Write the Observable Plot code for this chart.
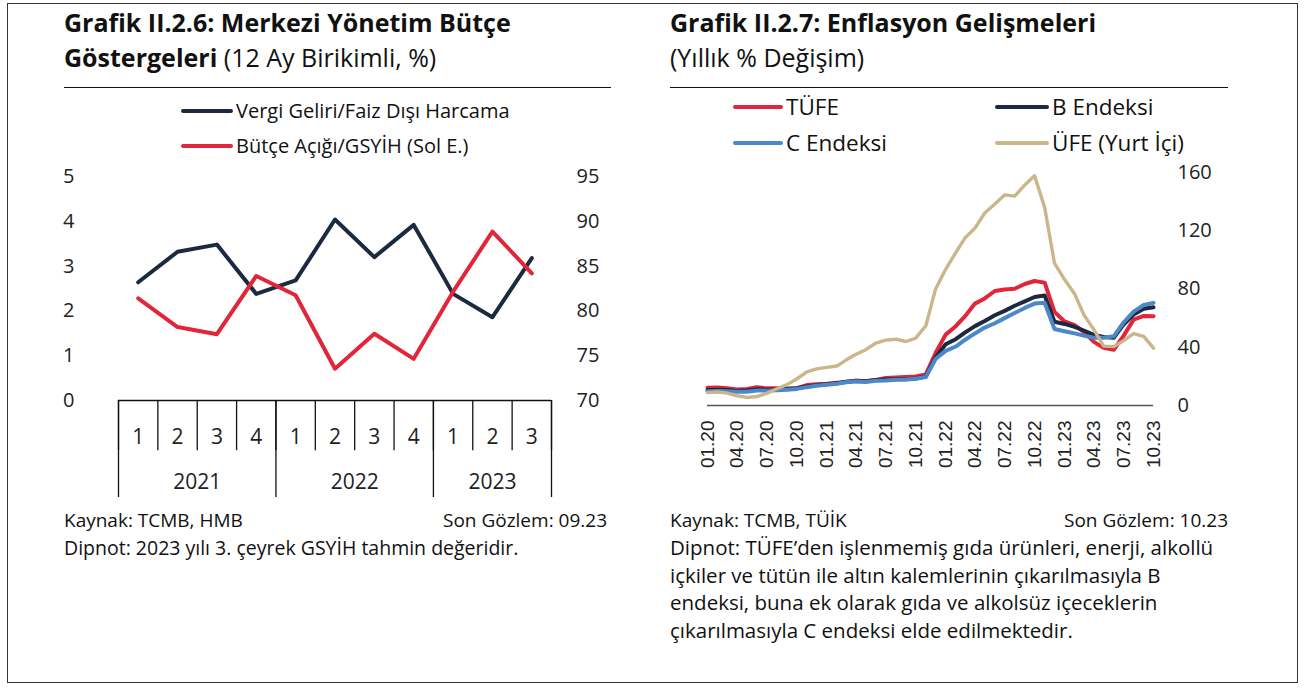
<!DOCTYPE html>
<html><head><meta charset="utf-8">
<script src="https://cdn.jsdelivr.net/npm/d3@7"></script>
<script src="https://cdn.jsdelivr.net/npm/@observablehq/plot@0.6"></script>
<style>
body{margin:0;background:#fff;font-family:"Open Sans",sans-serif;color:#1a1a1a}
#page{position:relative;width:1306px;height:688px;overflow:hidden;background:#fff}
#frame{position:absolute;left:7px;top:3px;width:1291px;height:680px;border:1.5px solid #333;box-sizing:border-box}
.title{position:absolute;font-size:25px;line-height:35px;white-space:nowrap;color:#111}
.title b{font-weight:700}
.rule{position:absolute;height:0;border-top:1.6px solid #111}
.leg{position:absolute;white-space:nowrap;display:flex;align-items:center;color:#111;line-height:30px}
.sw{display:inline-block;height:4px;border-radius:2px;margin-right:3px}
.foot{position:absolute;font-size:19.5px;line-height:27.5px;white-space:nowrap;color:#111}
.chart{position:absolute}
</style></head>
<body>
<div id="page">
  <div id="frame"></div>
  <div class="title" style="left:64px;top:5px"><b>Grafik II.2.6: Merkezi Yönetim Bütçe</b><br><b>Göstergeleri</b> (12 Ay Birikimli, %)</div>
  <div class="rule" style="left:64px;top:87px;width:547px"></div>
  <div class="title" style="left:670px;top:5px"><b>Grafik II.2.7: Enflasyon Gelişmeleri</b><br>(Yıllık % Değişim)</div>
  <div class="rule" style="left:670px;top:87px;width:558px"></div>
  <div class="chart" id="chartL" style="left:60px;top:150px"></div>
  <div class="chart" id="chartR" style="left:660px;top:150px"></div>
  <div class="foot" style="left:64px;top:507px;font-size:19px">Kaynak: TCMB, HMB</div>
  <div class="foot" style="right:699px;top:507px;font-size:19px">Son Gözlem: 09.23</div>
  <div class="foot" style="left:64px;top:534px">Dipnot: 2023 yılı 3. çeyrek GSYİH tahmin değeridir.</div>
  <div class="foot" style="left:670px;top:507px;font-size:19px">Kaynak: TCMB, TÜİK</div>
  <div class="foot" style="right:78px;top:507px;font-size:19px">Son Gözlem: 10.23</div>
  <div class="foot" style="left:670px;top:534px;font-size:20.5px">Dipnot: TÜFE’den işlenmemiş gıda ürünleri, enerji, alkollü<br>içkiler ve tütün ile altın kalemlerinin çıkarılmasıyla B<br>endeksi, buna ek olarak gıda ve alkolsüz içeceklerin<br>çıkarılmasıyla C endeksi elde edilmektedir.</div>
</div>
<script>
// ---------- Left chart data (Grafik II.2.6) ----------
const quarters = ["1","2","3","4","1","2","3","4","1","2","3"];
const years = ["2021","2022","2023"];
const quartersPerYear = [4,4,3];
const vergiGeliriFaizDisi = [83.2,86.6,87.4,81.9,83.4,90.2,86.0,89.6,81.9,79.3,85.9]; // right axis
const butceAcigiGSYIH = [2.28,1.64,1.48,2.78,2.35,0.71,1.49,0.93,2.43,3.77,2.84];      // left axis
const leftTicks = [0,1,2,3,4,5];
const rightTicksL = [70,75,80,85,90,95];
const leftSeriesNames = ["Vergi Geliri/Faiz Dışı Harcama","Bütçe Açığı/GSYİH (Sol E.)"];

// ---------- Right chart data (Grafik II.2.7) ----------
const startMonth = "2020-01";
const tufe = [12.15,12.37,11.86,10.94,11.39,12.62,11.76,11.77,11.75,11.89,14.03,14.60,
  14.97,15.61,16.19,17.14,16.59,17.53,18.95,19.25,19.58,19.89,21.31,36.08,
  48.69,54.44,61.14,69.97,73.50,78.62,79.60,80.21,83.45,85.51,84.39,64.27,
  57.68,55.18,50.51,43.68,39.59,38.21,47.83,58.94,61.53,61.36];
const bEndeksi = [10.6,10.9,10.6,10.0,10.3,11.2,10.8,11.0,11.3,11.9,13.0,14.0,
  14.6,15.2,16.3,16.9,16.6,17.5,17.8,18.0,18.1,18.6,19.9,33.0,
  42.0,45.5,50.0,54.5,58.0,62.0,65.0,68.5,71.5,74.5,75.5,57.5,
  56.0,54.0,51.5,48.5,47.0,46.5,55.5,62.5,66.5,67.5];
const cEndeksi = [9.8,10.0,9.8,9.4,9.5,10.3,10.2,10.4,10.8,11.4,12.6,13.6,
  14.3,15.0,16.0,16.6,16.2,17.0,17.2,17.6,17.8,18.4,19.6,31.9,
  37.5,40.5,45.0,49.5,53.5,56.5,60.0,63.5,67.0,70.0,70.5,52.5,
  51.0,49.5,48.0,46.5,46.5,47.5,57.0,64.5,69.0,70.5];
const ufe = [8.84,9.26,8.50,6.71,5.53,6.17,8.33,11.53,14.33,18.20,23.11,25.15,
  26.16,27.09,31.20,35.17,38.33,42.89,44.92,45.52,43.96,46.31,54.62,79.89,
  93.53,105.01,114.97,121.82,132.16,138.31,144.61,143.75,151.50,157.69,136.02,97.72,
  86.46,76.61,62.43,52.11,40.76,40.42,44.50,49.41,47.44,39.39];
const rightSeriesNames = ["TÜFE","B Endeksi","C Endeksi","ÜFE (Yurt İçi)"];
const xTickLabels = ["01.20","04.20","07.20","10.20","01.21","04.21","07.21","10.21",
  "01.22","04.22","07.22","10.22","01.23","04.23","07.23","10.23"];
const rightTicks = [0,40,80,120,160];

// ---------- styles ----------
const NAVY = "#1b2a41", RED = "#e1263a", BLUE = "#4b88c9", TAN = "#cbb68c";

// ---------- legends ----------
function legendItem(name, color, left, top, width, fs) {
  const d = document.createElement("div");
  d.className = "leg";
  d.style.left = left + "px"; d.style.top = top + "px"; d.style.fontSize = fs + "px";
  d.innerHTML = `<span class="sw" style="background:${color};width:${width}px"></span>${name}`;
  document.getElementById("page").appendChild(d);
}
legendItem(leftSeriesNames[0], NAVY, 181, 96, 52, 20);
legendItem(leftSeriesNames[1], RED, 181, 131, 52, 20);
legendItem(rightSeriesNames[0], RED, 733, 92, 50, 22.5);
legendItem(rightSeriesNames[1], NAVY, 995, 92, 54, 22.5);
legendItem(rightSeriesNames[2], BLUE, 733, 128, 50, 22.5);
legendItem(rightSeriesNames[3], TAN, 995, 128, 54, 22.5);

// ---------- left chart ----------
const toLeft = v => (v - 70) / 5;   // map right-axis values onto left scale
const yearBounds = [0];
quartersPerYear.forEach(n => yearBounds.push(yearBounds[yearBounds.length-1] + n));
const yearCenters = years.map((y,i) => (yearBounds[i] + yearBounds[i+1]) / 2);
const qBounds = d3.range(0, quarters.length + 1);
const yMinL = -2.165;

const chartL = Plot.plot({
  width: 560, height: 360,
  marginLeft: 58, marginRight: 69, marginTop: 26, marginBottom: 13,
  x: {domain: [0, quarters.length], axis: null},
  y: {domain: [yMinL, 5]},
  style: {fontFamily: "Open Sans", fontSize: "20px", color: "#222", background: "transparent"},
  marks: [
    Plot.ruleX(qBounds, {y1: 0, y2: -1.12, stroke: "#111", strokeWidth: 1.3}),
    Plot.ruleX(yearBounds, {y1: 0, y2: yMinL, stroke: "#111", strokeWidth: 1.3}),
    Plot.ruleY([0], {x1: 0, x2: quarters.length, stroke: "#111", strokeWidth: 1.6}),
    Plot.text(quarters, {x: (d,i) => i + 0.5, y: -0.83, text: d => d, fontSize: 21, fill: "#222"}),
    Plot.text(years, {x: (d,i) => yearCenters[i], y: -1.83, text: d => d, fontSize: 21, fill: "#222"}),
    Plot.axisY(leftTicks, {anchor: "left", tickSize: 0, tickPadding: 44, fontSize: 20, label: null}),
    Plot.axisY(rightTicksL.map(toLeft), {anchor: "right", tickSize: 0, tickPadding: 25, fontSize: 20, label: null,
      tickFormat: d => String(Math.round(d * 5 + 70))}),
    Plot.line(vergiGeliriFaizDisi, {x: (d,i) => i + 0.5, y: toLeft, stroke: NAVY, strokeWidth: 4}),
    Plot.line(butceAcigiGSYIH, {x: (d,i) => i + 0.5, y: d => d, stroke: RED, strokeWidth: 4})
  ]
});
document.getElementById("chartL").appendChild(chartL);

// ---------- right chart ----------
const [sy, sm] = startMonth.split("-").map(Number);
const monthDate = i => new Date(Date.UTC(sy, sm - 1 + i, 1));
const parseTick = s => { const [m, y] = s.split("."); return new Date(Date.UTC(2000 + +y, +m - 1, 1)); };
const series = [
  {name: rightSeriesNames[0], values: tufe, color: RED, w: 4},
  {name: rightSeriesNames[1], values: bEndeksi, color: NAVY, w: 4},
  {name: rightSeriesNames[2], values: cEndeksi, color: BLUE, w: 4},
  {name: rightSeriesNames[3], values: ufe, color: TAN, w: 3.4}
];
const chartR = Plot.plot({
  width: 600, height: 340,
  marginLeft: 47, marginRight: 107, marginTop: 22, marginBottom: 85,
  x: {type: "utc", domain: [monthDate(0), monthDate(tufe.length - 1)]},
  y: {domain: [0, 160]},
  style: {fontFamily: "Open Sans", fontSize: "20px", color: "#222", background: "transparent"},
  marks: [
    Plot.ruleY([0], {stroke: "#555", strokeWidth: 1.6}),
    Plot.axisY(rightTicks, {anchor: "right", tickSize: 0, tickPadding: 24, fontSize: 20, label: null}),
    Plot.axisX(xTickLabels.map(parseTick), {tickSize: 0, tickRotate: -90, tickPadding: 15, label: null,
      tickFormat: d3.utcFormat("%m.%y"), fontSize: 19, fontFamily: "Liberation Sans", letterSpacing: "2.6px"}),
    ...series.map(s => Plot.line(s.values, {x: (d,i) => monthDate(i), y: d => d, stroke: s.color, strokeWidth: s.w}))
  ]
});
document.getElementById("chartR").appendChild(chartR);
</script>
</body></html>
